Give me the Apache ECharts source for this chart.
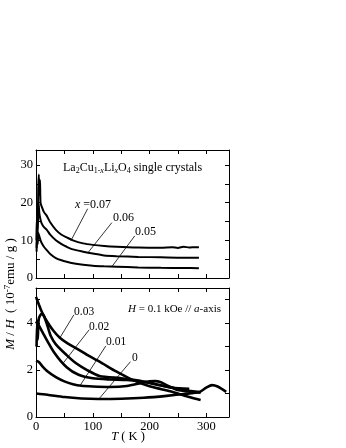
<!DOCTYPE html>
<html><head><meta charset="utf-8">
<script src="https://cdn.jsdelivr.net/npm/echarts@6/dist/echarts.min.js"></script>
<style>html,body{margin:0;padding:0;background:#fff}#c{width:346px;height:448px}</style>
</head><body><div id="c"></div>
<script>
// Top panel: x = 0.07, 0.06, 0.05  [T (K), M/H (1e-7 emu/g)]
var topX07 = [[1,8],[2,20],[3,12],[4,24],[5,27.5],[6,22],[7,26],[8,20],[10,19],[14,17.5],[19,16.5],[25,14.8],[35,12.8],[45,11.5],[54,10.8],[65,10],[83,9.2],[100,8.8],[120,8.5],[142,8.3],[180,8.1],[220,8.05],[240,8.2],[250,8.0],[260,8.3],[270,8.1],[280,8.2],[287,8.2]];
var topX06 = [[1,10],[2,18],[3,13],[4,20],[5,19],[6,17],[8,15.5],[10,14.5],[14,13.5],[19,12.8],[25,11.5],[35,10],[45,9],[54,8.3],[65,7.6],[83,7.0],[100,6.5],[120,6.0],[142,5.8],[180,5.6],[220,5.5],[260,5.4],[287,5.4]];
var topX05 = [[1,7],[2,11],[3,9],[4,12],[5,12],[6,11],[8,10],[10,9.3],[14,8.3],[19,7.4],[25,6.4],[35,5.3],[45,4.7],[54,4.3],[65,3.9],[83,3.5],[100,3.25],[120,3.1],[142,3.0],[180,2.8],[220,2.7],[260,2.65],[287,2.6]];
// Bottom panel
var botX03 = [[0,5.12],[5,4.8],[10,4.5],[20,4.05],[30,3.7],[42,3.38],[55,3.15],[71,2.93],[90,2.65],[112,2.36],[142,1.93],[171,1.57],[200,1.31],[241,1.07],[270,0.85],[290,0.72]];
var botX03b = [[1,3.0],[2,4.1],[3,3.3],[5,4.2],[10,4.4],[14,4.3],[20,3.9],[26,3.45],[35,3.1],[54,2.64],[70,2.3],[90,2.0],[112,1.75],[150,1.65],[180,1.55],[210,1.4],[240,1.25],[270,1.2]];
var botX02 = [[0,4.07],[5,3.9],[14,3.5],[32,2.75],[54,2.12],[75,1.8],[100,1.65],[130,1.6],[160,1.58],[190,1.5],[220,1.35],[250,1.2],[270,1.12],[290,1.05]];
var botX01 = [[0,2.4],[5,2.35],[10,2.2],[20,1.95],[35,1.7],[50,1.52],[65,1.4],[80,1.33],[100,1.3],[130,1.28],[160,1.32],[185,1.45],[200,1.52],[210,1.53],[220,1.48],[235,1.3],[250,1.15],[265,1.1],[290,1.05]];
var botX00 = [[0,1.0],[20,0.95],[50,0.85],[80,0.79],[110,0.77],[150,0.78],[190,0.82],[230,0.9],[260,0.98],[288,1.07],[300,1.25],[310,1.36],[320,1.3],[335,1.07]];
// Leader lines (data coords)
var topLeaders = [[[91,18.4],[61.5,9.9]],[[133.6,14.7],[91.4,6.7]],[[174,11.2],[133.6,3.0]]];
var botLeaders = [[[66.8,4.36],[42.2,3.38]],[[93.7,3.72],[48,2.3]],[[123,3.03],[77.3,1.33]],[[166.4,2.36],[111.2,0.78]]];
var xTicks = [0,100,200,300];

var F = 'Liberation Serif';
var chart = echarts.init(document.getElementById('c'), null, {renderer:'canvas'});
function xa(grid, pos, labels){
  return {type:'value', gridIndex:grid, position:pos, min:0, max:340, interval:50,
    axisLine:{show:true, onZero:false, lineStyle:{color:'#000', width:1}},
    axisTick:{show:true, inside:true, length:4, lineStyle:{color:'#000'}},
    axisLabel:{show:labels, color:'#000', fontFamily:F, fontSize:12.5, margin:3,
      formatter:function(v){return xTicks.indexOf(v)>=0? String(v):'';}},
    splitLine:{show:false}};
}
function ya(grid, pos, max, interval, labelEvery, labels){
  return {type:'value', gridIndex:grid, position:pos, min:0, max:max, interval:interval,
    axisLine:{show:true, onZero:false, lineStyle:{color:'#000', width:1}},
    axisTick:{show:true, inside:true, length:4, lineStyle:{color:'#000'}},
    axisLabel:{show:labels, color:'#000', fontFamily:F, fontSize:12.5, margin:3,showMaxLabel:false,
      formatter:function(v){return (Math.abs(v/labelEvery-Math.round(v/labelEvery))<1e-6)? String(v):'';}},
    splitLine:{show:false}};
}
function line(data, xi, yi, w, leaders){
  var s = {type:'line', xAxisIndex:xi, yAxisIndex:yi, data:data, showSymbol:false, symbol:'none',
    smooth:0.25, lineStyle:{color:'#000', width:w}, silent:true, animation:false};
  if(leaders){
    s.markLine = {silent:true, symbol:['none','none'], animation:false, label:{show:false},
      lineStyle:{color:'#000', width:0.8, type:'solid'},
      data: leaders.map(function(l){return [{coord:l[0]},{coord:l[1]}];})};
  }
  return s;
}
function mkRich(fs){
  var ss = Math.round(fs*0.68);
  return {
    n:{fontFamily:F, fontSize:fs, color:'#000'},
    i:{fontFamily:F, fontSize:fs, fontStyle:'italic', color:'#000'},
    s:{fontFamily:F, fontSize:ss, color:'#000', padding:[Math.round(fs*0.5),0,0,0]},
    si:{fontFamily:F, fontSize:ss, fontStyle:'italic', color:'#000', padding:[Math.round(fs*0.5),0,0,0]},
    sup:{fontFamily:F, fontSize:ss, color:'#000', padding:[0,0,Math.round(fs*0.5),0]}
  };
}
function txt(x, y, text, fs, align, rot){
  var g = {type:'text', x:x, y:y, silent:true,
    style:{text:text, rich:mkRich(fs), fontFamily:F, fontSize:fs, fill:'#000', align:align||'left', verticalAlign:'middle'}};
  if(rot){g.rotation = rot;}
  return g;
}
chart.setOption({
  animation:false,
  backgroundColor:'#fff',
  grid:[{left:36, top:150, width:193, height:128},{left:36, top:288, width:193, height:129}],
  xAxis:[xa(0,'bottom',false), xa(0,'top',false), xa(1,'bottom',true), xa(1,'top',false)],
  yAxis:[ya(0,'left',34,5,10,true), ya(0,'right',34,5,10,false), ya(1,'left',5.5,1,2,true), ya(1,'right',5.5,1,2,false)],
  series:[
    line(topX07,0,0,2,topLeaders), line(topX06,0,0,2), line(topX05,0,0,2),
    line(botX03,2,2,2.6,botLeaders), line(botX03b,2,2,2.6), line(botX02,2,2,2.6), line(botX01,2,2,2.6), line(botX00,2,2,2.6)
  ],
  graphic:[
    txt(63,168,'{n|La}{s|2}{n|Cu}{s|1-}{si|x}{n|Li}{si|x}{n|O}{s|4}{n| single crystals}',12),
    txt(75,205,'{i|x}{n| =0.07}',12),
    txt(113,218,'{n|0.06}',12),
    txt(135,232,'{n|0.05}',12),
    txt(74,312,'{n|0.03}',11.5),
    txt(89,327,'{n|0.02}',11.5),
    txt(106,342,'{n|0.01}',11.5),
    txt(132,358,'{n|0}',11.5),
    txt(128,309,'{i|H}{n| = 0.1 kOe // }{i|a}{n|-axis}',11),
    txt(128,437,'{i|T}{n| ( K )}',12.5,'center'),
    txt(11,294,'{i|M}{n| / }{i|H}{n|  ( 10}{sup|-7}{n|emu / g )}',13,'center',Math.PI/2)
  ]
});
</script>
</body></html>
